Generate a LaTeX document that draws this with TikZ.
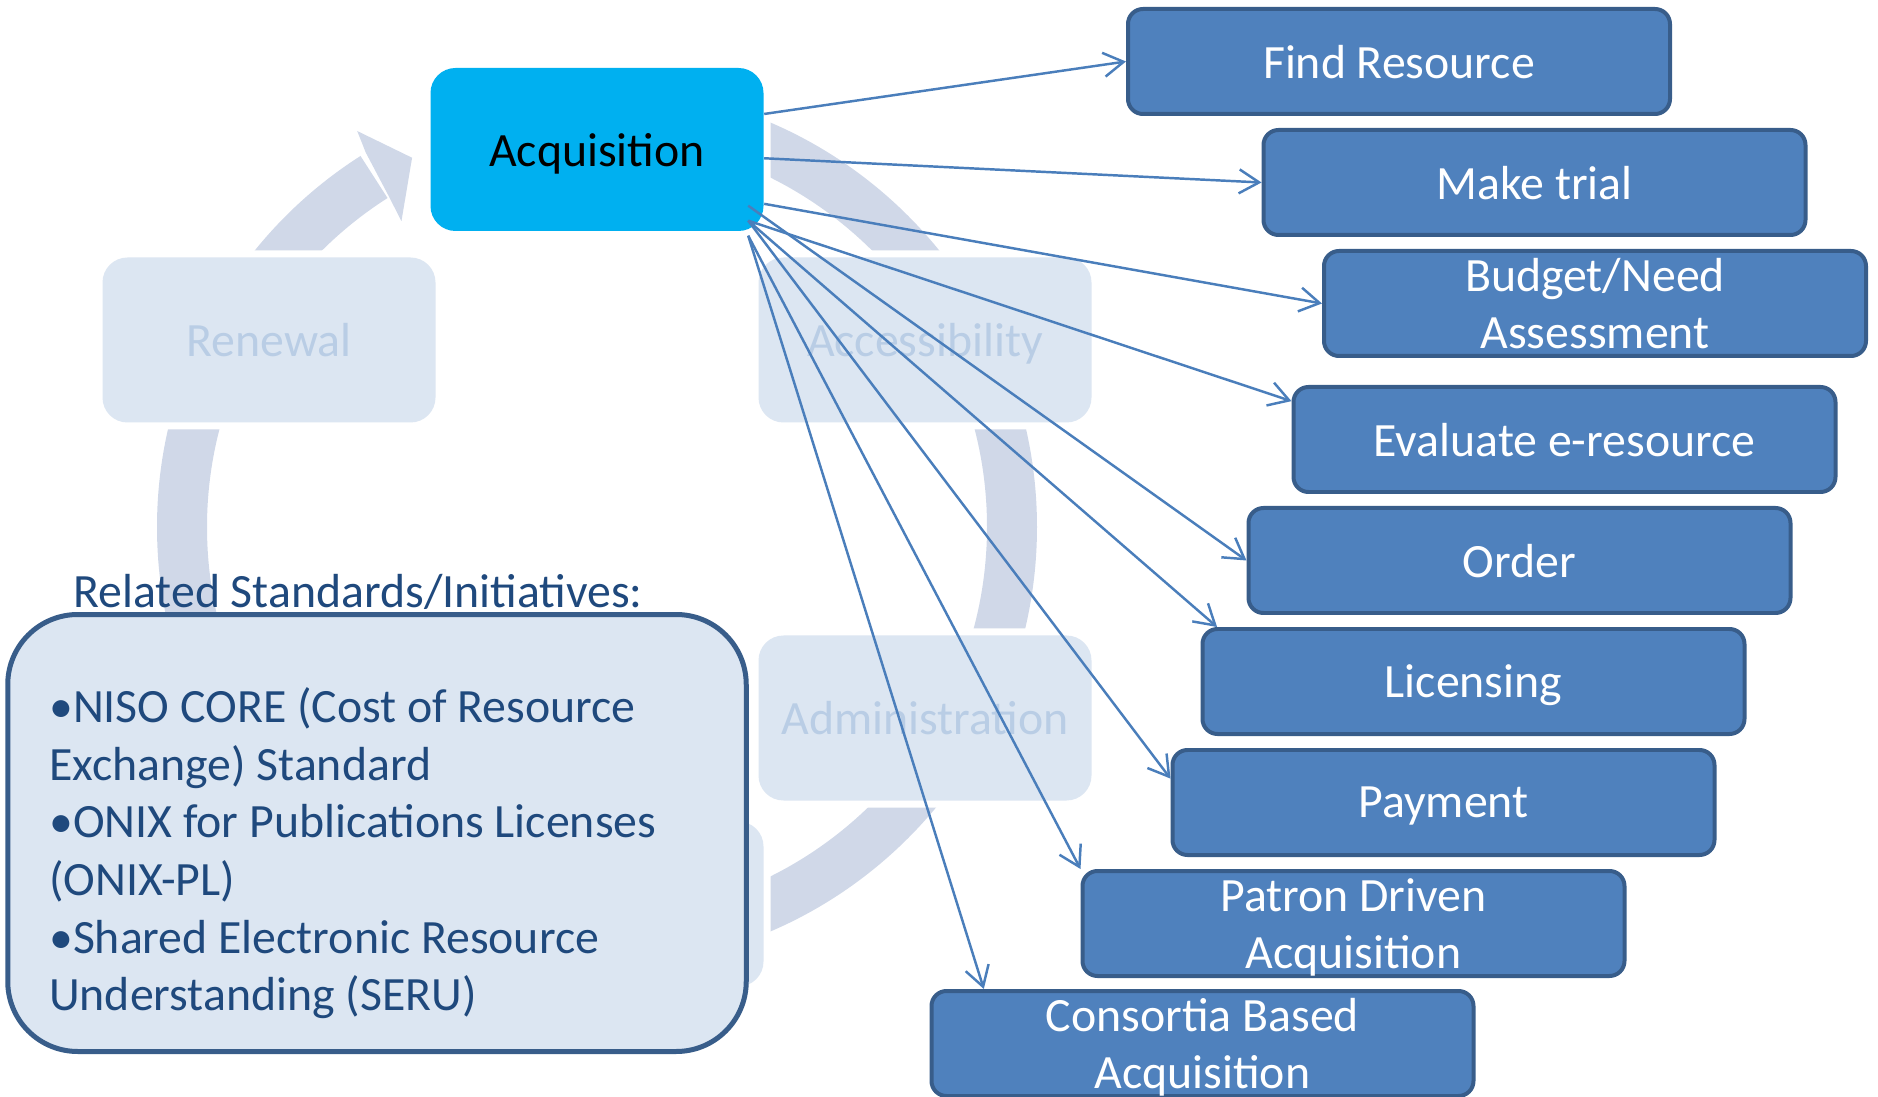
\documentclass[tikz,border=0pt]{standalone}
\usepackage{fontspec}
\setmainfont{Carlito}
\usepackage{xcolor}
\usepackage{tikz}
\usetikzlibrary{arrows.meta}

\definecolor{ringgray}{HTML}{D0D8E8}
\definecolor{palefill}{HTML}{DCE6F2}
\definecolor{paletext}{HTML}{B9CDE5}
\definecolor{acqcyan}{HTML}{00B0F0}
\definecolor{taskfill}{HTML}{4F81BD}
\definecolor{taskline}{HTML}{385D8A}
\definecolor{linkblue}{HTML}{4A7EBB}
\definecolor{stdblue}{HTML}{1F497D}

\begin{document}
\begin{tikzpicture}[
        font=\fontsize{13.6}{16.4}\selectfont,
        phase/.style={rectangle, rounded corners=0.25cm, fill=palefill, text=paletext,
            minimum width=3.33cm, minimum height=1.65cm, inner sep=0pt, text depth=0pt,
            preaction={draw=white, line width=0.14cm}},
        task/.style={rectangle, rounded corners=0.15cm, draw=taskline, line width=0.04cm,
            fill=taskfill, text=white, minimum width=5.42cm, minimum height=1.05cm,
            inner sep=0pt, align=center, text depth=0pt},
        link/.style={draw=linkblue, line width=0.7pt, -{Straight Barb[length=0.2cm,width=0.24cm]}}
    ]
        \useasboundingbox (0,0) rectangle (18.78,-10.97);

        % the cycle behind the boxes
        \draw[ringgray, line width=0.5cm] (5.97,-5.27) ++(90:4.15) arc[start angle=90, end angle=-237.5, radius=4.15];
        \fill[ringgray, shift={(5.97,-5.27)}] (121.2:4.63) -- (116.6:4.13) -- (122.6:3.63) -- (122.2:3.9) -- (121.7:4.4) -- cycle;

        \node[phase] (renewal) at (2.69,-3.40) {Renewal};
        \node[phase] (access) at (9.25,-3.40) {Accessibility};
        \node[phase] (admin) at (9.25,-7.18) {Administration};
        \node[phase] (lower) at (5.97,-9.04) {};
        \node[phase, fill=acqcyan, text=black, minimum height=1.63cm] (acq) at (5.97,-1.495) {Acquisition};

        % standards box
        \node[draw=taskline, line width=0.05cm, fill=palefill, rounded corners=0.7cm,
            minimum width=7.385cm, minimum height=4.37cm] (stdbox) at (3.77,-8.33) {};
        \node[anchor=base west, inner sep=0pt, text=stdblue] (stdtitle) at (0.727,-6.077) {Related Standards/Initiatives:};
        \node[anchor=north west, inner sep=0pt, text=stdblue, align=left] (stdlist) at (0.485,-6.87)
            {•NISO CORE (Cost of Resource\\Exchange) Standard\\•ONIX for Publications Licenses\\(ONIX-PL)\\•Shared Electronic Resource\\Understanding (SERU)};

        % steps of acquisition
        \node[task] (find) at (13.99,-0.615) {Find Resource};
        \node[task] (trial) at (15.345,-1.825) {Make trial};
        \node[task] (budget) at (15.95,-3.035) {Budget/Need\\Assessment};
        \node[task] (evaluate) at (15.645,-4.395) {Evaluate e-resource};
        \node[task] (order) at (15.195,-5.605) {Order};
        \node[task] (licensing) at (14.735,-6.815) {Licensing};
        \node[task] (payment) at (14.435,-8.025) {Payment};
        \node[task] (patron) at (13.535,-9.235) {Patron Driven\\Acquisition};
        \node[task] (consortia) at (12.025,-10.435) {Consortia Based\\Acquisition};

        \coordinate (fanA) at ([shift={(-0.16,0.26)}]acq.south east);
        \coordinate (fanB) at ([shift={(-0.16,0.11)}]acq.south east);
        \coordinate (fanC) at ([shift={(-0.16,-0.04)}]acq.south east);

        \draw[link] (acq.12) -- (find.west);
        \draw[link] (acq.-3) -- (trial.west);
        \draw[link] (acq.-18) -- (budget.west);
        \draw[link] (fanB) -- (evaluate.172);
        \draw[link] (fanA) -- (order.west);
        \draw[link] (fanB) -- (licensing.168);
        \draw[link] (fanB) -- (payment.175);
        \draw[link] (fanC) -- (patron.north west);
        \draw[link] (fanC) -- (consortia.166);
    \end{tikzpicture}
\end{document}
